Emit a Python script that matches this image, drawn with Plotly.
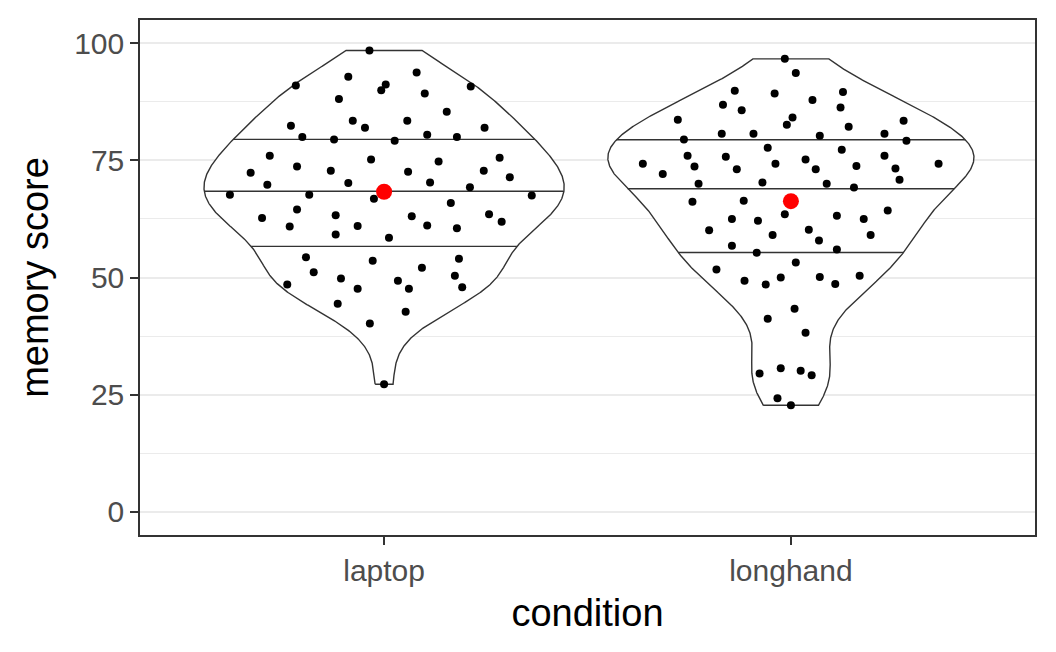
import numpy as np
import plotly.graph_objects as go

# Jitter offset from the category centre, memory score
conditions = ["laptop", "longhand"]

laptop_jitter = [-0.036, -0.088, -0.217, 0.004, -0.007, -0.111, -0.077, -0.047, -0.229, -0.201,
                 -0.123, -0.281, -0.032, -0.328, -0.214, -0.131, -0.287, -0.088, -0.379, -0.184,
                 -0.025, -0.300, -0.214, -0.119, 0.080, 0.100, 0.213, 0.154, 0.057, 0.247,
                 0.106, 0.179, 0.026, 0.134, 0.284, 0.059, 0.245, 0.113, 0.309, 0.211,
                 0.363, 0.164, 0.068, 0.258, 0.289, -0.232, -0.065, -0.119, 0.012, -0.192,
                 -0.028, -0.173, -0.106, -0.065, -0.238, -0.114, -0.035, 0.000, 0.106, 0.179,
                 0.184, 0.093, 0.174, 0.034, 0.061, 0.192, 0.053]
laptop_score = [98.5, 92.9, 91.0, 91.2, 90.0, 88.1, 83.5, 82.0, 82.4, 80.0,
                79.5, 76.0, 75.2, 72.4, 73.7, 72.8, 69.8, 70.2, 67.7, 67.7,
                66.8, 62.7, 64.5, 63.3, 93.8, 89.3, 90.8, 85.4, 83.5, 82.0,
                80.5, 80.0, 79.2, 74.8, 75.6, 72.6, 72.8, 70.3, 71.4, 69.3,
                67.5, 65.9, 63.1, 63.5, 61.9, 60.9, 61.0, 59.2, 58.5, 54.3,
                53.6, 51.1, 49.8, 47.6, 48.5, 44.4, 40.2, 27.2, 61.1, 60.5,
                54.0, 52.1, 50.4, 49.3, 47.6, 47.9, 42.7]

longhand_jitter = [-0.015, 0.012, -0.138, -0.040, -0.167, -0.121, -0.278, 0.004, -0.010, -0.170,
                   -0.092, -0.263, -0.057, -0.254, -0.160, -0.364, -0.237, -0.038, -0.133, -0.315,
                   -0.227, -0.070, -0.242, -0.116, -0.015, -0.145, -0.081, -0.201, 0.128, 0.053,
                   0.122, 0.142, 0.277, 0.071, 0.230, 0.284, 0.125, 0.036, 0.230, 0.061,
                   0.161, 0.257, 0.363, 0.267, 0.088, 0.155, 0.113, 0.179, 0.238, 0.044,
                   -0.045, -0.145, -0.084, 0.012, -0.183, -0.114, -0.062, -0.025, 0.009, -0.057,
                   0.036, -0.077, -0.025, 0.024, 0.051, -0.033, 0.000, 0.069, 0.196, 0.113,
                   0.071, 0.109, 0.169]
longhand_score = [96.7, 93.7, 89.9, 89.3, 86.9, 85.7, 83.7, 84.2, 82.6, 80.7,
                  80.7, 79.5, 77.7, 76.0, 75.8, 74.3, 73.7, 74.3, 73.1, 72.1,
                  70.0, 70.3, 66.2, 66.4, 63.5, 62.5, 62.1, 60.1, 89.6, 87.9,
                  86.3, 82.2, 83.5, 80.3, 80.7, 79.2, 77.3, 75.2, 76.0, 73.1,
                  73.8, 73.3, 74.3, 70.9, 70.0, 69.2, 63.2, 62.5, 64.3, 60.2,
                  59.1, 56.8, 55.3, 53.2, 51.7, 49.3, 48.5, 50.0, 43.3, 41.2,
                  38.2, 29.5, 30.6, 30.1, 29.1, 24.2, 22.7, 57.9, 59.1, 56.0,
                  50.1, 48.6, 50.4]

y_ticks = [0, 25, 50, 75, 100]
quantiles = [0.25, 0.5, 0.75]

groups = [
    (1, np.array(laptop_jitter), np.array(laptop_score)),
    (2, np.array(longhand_jitter), np.array(longhand_score)),
]


def bw_nrd0(v):
    sd = np.std(v, ddof=1)
    iqr = np.subtract(*np.percentile(v, [75, 25]))
    return 0.9 * min(sd, iqr / 1.34) * len(v) ** -0.2


# kernel density like geom_violin (trimmed, gaussian, nrd0)
dens = []
for pos, jit, score in groups:
    grid = np.linspace(score.min(), score.max(), 512)
    bw = bw_nrd0(score)
    d = np.exp(-0.5 * ((grid[:, None] - score[None, :]) / bw) ** 2).sum(axis=1)
    d = d / (len(score) * bw * np.sqrt(2 * np.pi))
    dens.append((grid, d))
max_d = max(d.max() for _, d in dens)

fig = go.Figure()
line_col = "#333333"

for (pos, jit, score), (grid, d) in zip(groups, dens):
    w = 0.45 * d / max_d
    xs = np.concatenate([pos - w, (pos + w)[::-1], [pos - w[0]]])
    ys = np.concatenate([grid, grid[::-1], [grid[0]]])
    fig.add_trace(go.Scatter(x=xs, y=ys, mode="lines", fill="toself", fillcolor="white",
                             line=dict(color=line_col, width=1.4), hoverinfo="skip"))
    # quantile lines from the density, as ggplot does
    ecdf = np.cumsum(d) / d.sum()
    qx, qy = [], []
    for q in quantiles:
        yq = np.interp(q, ecdf, grid)
        wq = np.interp(yq, grid, w)
        qx += [pos - wq, pos + wq, None]
        qy += [yq, yq, None]
    fig.add_trace(go.Scatter(x=qx, y=qy, mode="lines", line=dict(color=line_col, width=1.4),
                             hoverinfo="skip"))

for pos, jit, score in groups:
    fig.add_trace(go.Scatter(x=pos + jit, y=score, mode="markers",
                             marker=dict(color="black", size=8)))

for pos, jit, score in groups:
    fig.add_trace(go.Scatter(x=[pos], y=[score.mean()], mode="markers",
                             marker=dict(color="red", size=16)))

fig.update_layout(
    width=1056, height=652,
    showlegend=False,
    plot_bgcolor="white", paper_bgcolor="white",
    margin=dict(l=140, r=21, t=20, b=117),
    font=dict(family="Liberation Sans, Arial, sans-serif"),
    xaxis=dict(
        range=[0.4, 2.6], tickvals=[1, 2], ticktext=conditions,
        showgrid=False, zeroline=False,
        showline=True, mirror=True, linecolor=line_col, linewidth=1.5,
        ticks="outside", ticklen=8, tickwidth=1.5, tickcolor=line_col,
        tickfont=dict(size=30, color="#4D4D4D"),
        title=dict(text="condition", font=dict(size=38, color="black"), standoff=14),
    ),
    yaxis=dict(
        range=[-5, 105], tickvals=y_ticks,
        showgrid=True, gridcolor="#EBEBEB", gridwidth=2, zeroline=False,
        minor=dict(tick0=12.5, dtick=25, showgrid=True, gridcolor="#EBEBEB", gridwidth=1),
        showline=True, mirror=True, linecolor=line_col, linewidth=1.5,
        ticks="outside", ticklen=8, tickwidth=1.5, tickcolor=line_col,
        tickfont=dict(size=30, color="#4D4D4D"),
        title=dict(text="memory score", font=dict(size=38, color="black"), standoff=14),
    ),
)

fig.write_html("out.html", config={"displayModeBar": False},
               post_script="document.body.style.margin='0';")
